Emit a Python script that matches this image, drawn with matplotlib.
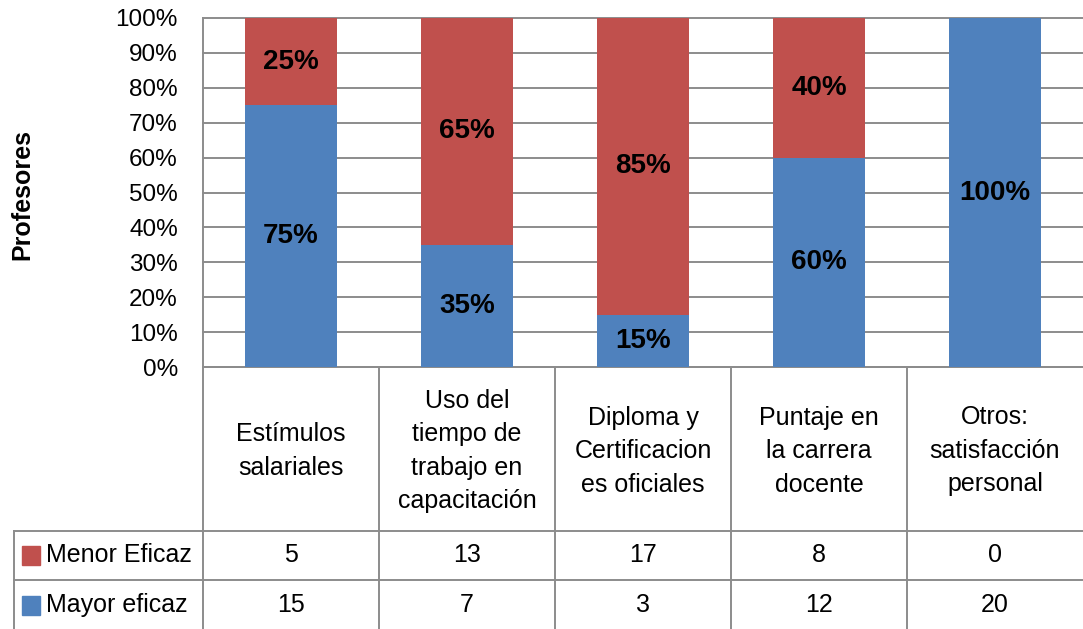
import matplotlib.pyplot as plt
from matplotlib.patches import Rectangle
import numpy as np

plt.rcParams['font.family'] = ['Liberation Sans', 'DejaVu Sans']

categorias = ['Estímulos\nsalariales',
              'Uso del\ntiempo de\ntrabajo en\ncapacitación',
              'Diploma y\nCertificacion\nes oficiales',
              'Puntaje en\nla carrera\ndocente',
              'Otros:\nsatisfacción\npersonal']
menor = [5, 13, 17, 8, 0]
mayor = [15, 7, 3, 12, 20]
series = ['Menor Eficaz', 'Mayor eficaz']

rojo = '#C0504D'
azul = '#4F81BD'
gris = '#8c8c8c'

total = np.array(menor) + np.array(mayor)
menor_pct = np.array(menor) / total * 100
mayor_pct = np.array(mayor) / total * 100

W, H = 1083, 629
fig = plt.figure(figsize=(W / 100, H / 100), dpi=100)

# grafico de barras 100% apiladas
ax = fig.add_axes([203 / W, 1 - 367 / H, (W - 203) / W, (367 - 18) / H])
x = np.arange(len(categorias))
ax.bar(x, mayor_pct, 0.52, color=azul, zorder=3)
ax.bar(x, menor_pct, 0.52, bottom=mayor_pct, color=rojo, zorder=3)
for i in range(len(x)):
    if mayor_pct[i] > 0:
        ax.text(x[i], mayor_pct[i] / 2, '%d%%' % round(mayor_pct[i]), ha='center', va='center',
                fontsize=20, fontweight='bold', zorder=4)
    if menor_pct[i] > 0:
        ax.text(x[i], mayor_pct[i] + menor_pct[i] / 2, '%d%%' % round(menor_pct[i]), ha='center',
                va='center', fontsize=20, fontweight='bold', zorder=4)

ax.set_xlim(-0.5, 4.5)
ax.set_ylim(0, 100)
ax.set_yticks(range(0, 101, 10))
ax.set_yticklabels(['%d%%' % v for v in range(0, 101, 10)], fontsize=17.5)
ax.set_xticks([])
ax.tick_params(axis='y', length=0, pad=18)
ax.yaxis.grid(True, color=gris, lw=1.4)
ax.set_axisbelow(True)
for s in ['top', 'right']:
    ax.spines[s].set_visible(False)
for s in ['left', 'bottom']:
    ax.spines[s].set_color(gris)
    ax.spines[s].set_linewidth(1.4)
for gl in ax.yaxis.get_gridlines():
    gl.set_clip_on(False)

fig.text(22 / W, 1 - 195 / H, 'Profesores', rotation=90, ha='center', va='center',
         fontsize=18, fontweight='bold')

# tabla de datos
tax = fig.add_axes([0, 0, 1, (H - 367) / H])
tax.set_xlim(-203 / 176 - 0.5, (W - 203) / 176 - 0.5)
tax.set_ylim(H, 367)
tax.axis('off')

def px(p):
    return (p - 203) / 176 - 0.5

for b in np.arange(-0.5, 4.0, 1.0):
    tax.plot([b, b], [367, H], color=gris, lw=1.4, clip_on=False)
tax.plot([px(14), px(14)], [531, H], color=gris, lw=1.4, clip_on=False)
for yy in [531, 580]:
    tax.plot([px(14), 4.5], [yy, yy], color=gris, lw=1.4, clip_on=False)

for i, c in enumerate(categorias):
    tax.text(x[i], 451, c, ha='center', va='center', fontsize=18, linespacing=1.5)

filas = [(series[0], menor, rojo, 555), (series[1], mayor, azul, 605)]
for nombre, vals, col, yy in filas:
    tax.add_patch(Rectangle((px(22), yy - 9), 18 / 176, 19, color=col))
    tax.text(px(46), yy, nombre, ha='left', va='center', fontsize=18)
    for i, v in enumerate(vals):
        tax.text(x[i], yy, str(v), ha='center', va='center', fontsize=18)

fig.savefig('out.png', dpi=100)
